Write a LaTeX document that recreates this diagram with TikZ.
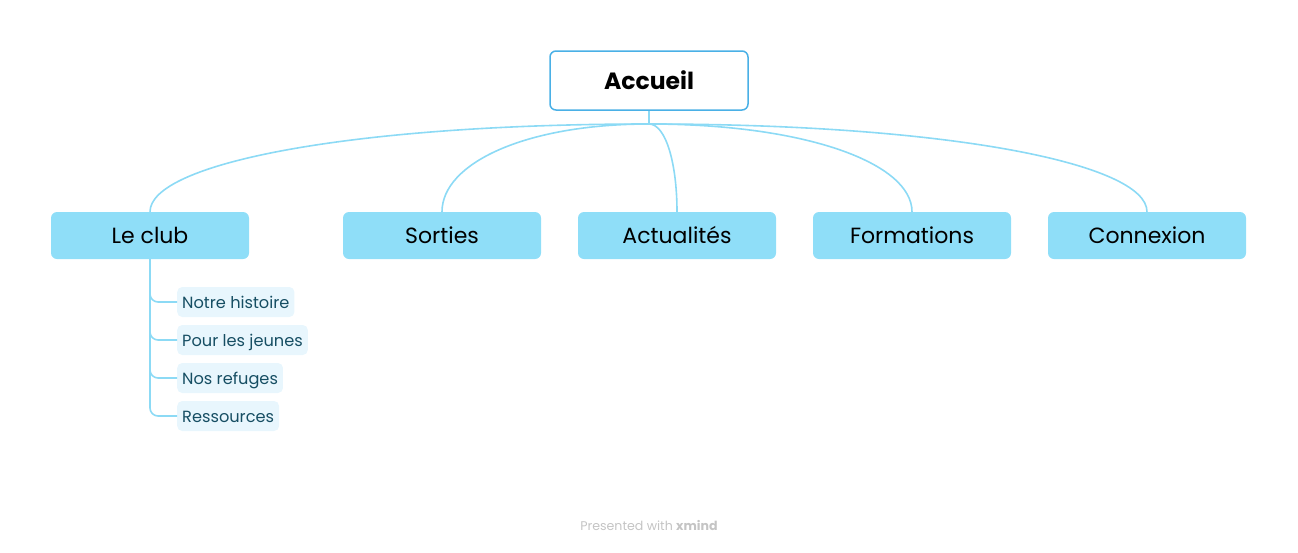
\documentclass[tikz,border=0pt]{standalone}
\usepackage{fontspec}
\setmainfont{Poppins}
\usetikzlibrary{calc}
\definecolor{rootline}{RGB}{74,176,230}
\definecolor{topicfill}{RGB}{143,222,248}
\definecolor{branchline}{RGB}{140,218,245}
\definecolor{subfill}{RGB}{232,246,253}
\definecolor{subtext}{RGB}{22,78,99}
\definecolor{footgray}{RGB}{196,196,196}
\tikzset{
    rootbox/.style  = {draw=rootline, line width=1.5pt, fill=white, rounded corners=6pt,
                       minimum width=198pt, minimum height=59pt, inner sep=0pt,
                       font=\fontsize{23.5}{28}\selectfont\bfseries},
    topicbox/.style = {fill=topicfill, rounded corners=6pt, minimum width=198pt,
                       minimum height=47pt, inner sep=0pt, text height=18pt, text depth=2pt,
                       font=\fontsize{22}{26}\selectfont},
    subbox/.style   = {fill=subfill, rounded corners=5pt, minimum height=30pt, inner xsep=5pt,
                       inner ysep=0pt, text height=12pt, text depth=0pt,
                       anchor=west, text=subtext, font=\fontsize{16.2}{19}\selectfont},
    branch/.style   = {draw=branchline, line width=1.6pt},
}
\begin{document}
\begin{tikzpicture}[x=1pt, y=-1pt]
        \useasboundingbox (0,0) rectangle (1298,552);
        % central topic
        \node[rootbox] (accueil) at (649,80.5) {Accueil};
        \coordinate (hub) at (649,124);
        % main topics
        \node[topicbox] (club)      at ( 150,235.5) {Le club};
        \node[topicbox] (sorties)   at ( 442,235.5) {Sorties};
        \node[topicbox] (actus)     at ( 677,235.5) {Actualités};
        \node[topicbox] (formation) at ( 912,235.5) {Formations};
        \node[topicbox] (connexion) at (1147,235.5) {Connexion};
        % connectors
        \draw[branch] (accueil.south) -- (hub);
        \foreach \t in {club, sorties, actus, formation, connexion}
            \draw[branch] (hub) .. controls ($(hub)!0.6!(hub-|\t.north)$)
                and ($(\t.north)!0.55!(\t.north|-hub)$) .. (\t.north);
        % subtopics of Le club
        \node[subbox] (histoire) at (177,302) {Notre histoire};
        \node[subbox] (jeunes)   at (177,340) {Pour les jeunes};
        \node[subbox] (refuges)  at (177,378) {Nos refuges};
        \node[subbox] (ressrc)   at (177,416) {Ressources};
        \foreach \s in {histoire, jeunes, refuges, ressrc}
            \draw[branch, rounded corners=8pt] (club.south) |- (\s.west);
        % footer
        \node[text=footgray, font=\fontsize{12.6}{15}\selectfont] (footer) at (649,526)
            {Presented with \textbf{xmind}};
    \end{tikzpicture}
\end{document}
